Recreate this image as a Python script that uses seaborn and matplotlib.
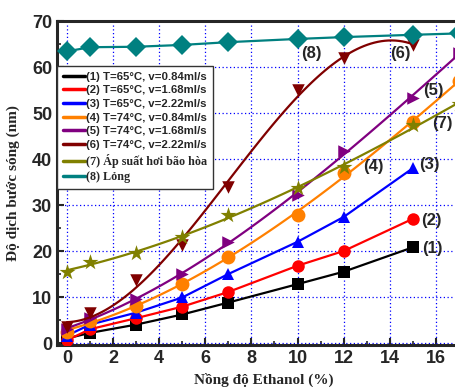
import numpy as np
import pandas as pd
import matplotlib
matplotlib.use("Agg")
import matplotlib.pyplot as plt
import seaborn as sns
from matplotlib.lines import Line2D
from matplotlib.ticker import MultipleLocator

# ---- data ----
x8 = [0, 1, 3, 5, 7, 10, 12, 15]
x9 = [0, 1, 3, 5, 7, 10, 12, 15, 17]
s1 = [1.0, 2.2, 4.0, 6.2, 8.8, 12.8, 15.5, 20.8]
s2 = [0.6, 3.0, 5.4, 7.9, 11.1, 16.8, 20.0, 27.0]
s3 = [1.6, 4.0, 6.6, 9.9, 15.0, 22.0, 27.4, 38.0]
s4 = [2.5, 4.8, 8.0, 12.8, 18.8, 27.8, 37.0, 48.0, 57.0]
s5 = [3.0, 5.5, 9.5, 15.0, 22.0, 32.2, 41.8, 53.3, 63.0]
s6 = [3.5, 6.5, 13.6, 21.4, 34.0, 55.0, 62.0, 64.8]
s7 = [15.5, 17.6, 19.6, 23.0, 27.8, 33.7, 38.3, 47.4, 52.0]
s8 = [63.4, 64.3, 64.4, 64.8, 65.4, 66.1, 66.5, 67.0, 67.3]

labels = ["(1) T=65°C, v=0.84ml/s", "(2) T=65°C, v=1.68ml/s",
          "(3) T=65°C, v=2.22ml/s", "(4) T=74°C, v=0.84ml/s",
          "(5) T=74°C, v=1.68ml/s", "(6) T=74°C, v=2.22ml/s",
          "(7) Áp suất hơi bão hòa", "(8) Lỏng"]
tags = ["(1)", "(2)", "(3)", "(4)", "(5)", "(6)", "(7)", "(8)"]
xticks = [0, 2, 4, 6, 8, 10, 12, 14, 16]
yticks = [0, 10, 20, 30, 40, 50, 60, 70]

colors = ["#000000", "#ff0000", "#0000ff", "#ff8000",
          "#800080", "#800000", "#808000", "#008080"]
markers = ["s", "o", "^", "o", ">", "v", "*", "D"]
msizes = [8, 9, 9, 10, 9, 9, 12, 10]

series = [(x8, s1), (x8, s2), (x8, s3), (x9, s4), (x9, s5), (x8, s6), (x9, s7), (x9, s8)]
fit_order = [0, 0, 0, 3, 3, 3, 3, 0]

sns.set_style("ticks")
plt.rcParams['font.family'] = ['Liberation Sans', 'DejaVu Sans']

fig = plt.figure(figsize=(4.55, 3.87), dpi=100)
ax = fig.add_axes([57/455, 42/387, 413/455, 324/387])

for i, (xs, ys) in enumerate(series):
    df = pd.DataFrame({"x": xs, "y": ys})
    if fit_order[i]:
        sns.regplot(data=df, x="x", y="y", order=fit_order[i], ci=None, truncate=True, ax=ax,
                    marker=markers[i], color=colors[i],
                    scatter_kws=dict(s=msizes[i]**2, linewidths=0, alpha=1, zorder=3+i, clip_on=True),
                    line_kws=dict(lw=1.6, zorder=2+i))
    else:
        sns.lineplot(data=df, x="x", y="y", ax=ax, color=colors[i], lw=1.6,
                     marker=markers[i], markersize=msizes[i], markeredgewidth=0,
                     zorder=3+i)

ax.set_xlim(-0.43, 17.48)
ax.set_ylim(-0.43, 70)
ax.set_xticks(xticks)
ax.set_yticks(yticks)
ax.xaxis.set_minor_locator(MultipleLocator(1))
ax.yaxis.set_minor_locator(MultipleLocator(5))
ax.tick_params(which='major', direction='in', length=5, width=1.5, labelsize=13)
ax.tick_params(which='minor', direction='in', length=3, width=1.2)
for lab in ax.get_xticklabels() + ax.get_yticklabels():
    lab.set_fontweight('bold')
ax.grid(True, which='major', color='#0000ff', ls=(0, (1, 2)), lw=0.9)
for sp in ['left', 'bottom', 'top']:
    ax.spines[sp].set_linewidth(2.2)
ax.spines['right'].set_visible(False)

ax.set_xlabel("Nồng độ Ethanol (%)", fontsize=11, fontweight='bold',
              family=['Liberation Serif', 'DejaVu Serif'])
ax.set_ylabel("Độ dịch bước sóng (nm)", fontsize=11, fontweight='bold',
              family=['Liberation Serif', 'DejaVu Serif'])
ax.xaxis.set_label_coords(0.5, -0.085)
ax.yaxis.set_label_coords(-0.09, 0.5)

# annotations
tag_pos = [(15.85, 20.6), (15.8, 26.7), (15.7, 38.7), (13.3, 38.3),
           (15.9, 55.0), (14.45, 63.0), (16.3, 47.8), (10.6, 63.0)]
for t, (tx, ty) in zip(tags, tag_pos):
    ax.text(tx, ty, t, fontsize=12, fontweight='bold', ha='center', va='center', zorder=20)

handles = [Line2D([0], [0], color=c, lw=2.5) for c in colors]
leg = ax.legend(handles, labels, loc='upper left', bbox_to_anchor=(0.0, 0.861),
                borderaxespad=0, fancybox=False, framealpha=1, edgecolor='#333333',
                prop=dict(size=8.2, weight='bold'), handlelength=1.95, handletextpad=0.1,
                labelspacing=0.32, borderpad=0.5)
leg.get_frame().set_linewidth(1.0)
leg.set_zorder(30)
for t in leg.get_texts()[6:]:
    t.set_family(['Liberation Serif', 'DejaVu Serif'])
    t.set_fontsize(8.7)

fig.savefig("out.png", dpi=100)
